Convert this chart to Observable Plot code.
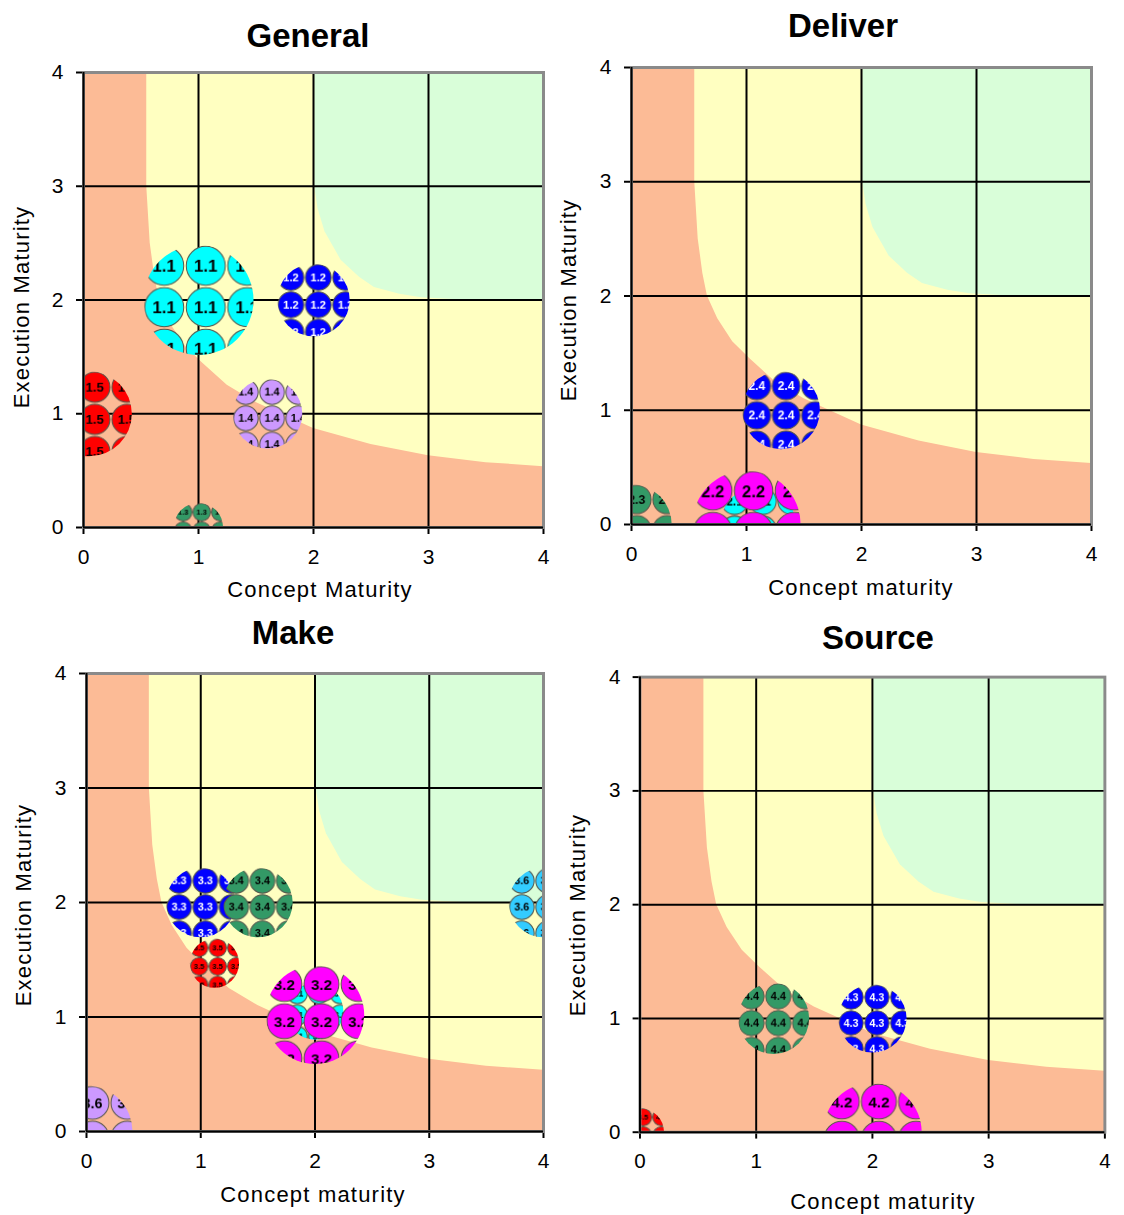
<!DOCTYPE html>
<html><head><meta charset="utf-8">
<script src="https://cdn.jsdelivr.net/npm/d3@7"></script>
<script src="https://cdn.jsdelivr.net/npm/@observablehq/plot@0.6"></script>
<style>
body{margin:0;background:#fff;}
#root{position:relative;width:1124px;height:1215px;overflow:hidden;font-family:"Liberation Sans",Arial,sans-serif;color:#000;}
.title{position:absolute;font-weight:bold;font-size:33px;transform:translate(-50%,-50%);white-space:nowrap;line-height:1;}
.xt{position:absolute;font-size:22px;letter-spacing:1.2px;transform:translate(-50%,-50%);white-space:nowrap;line-height:1;}
.yt{position:absolute;font-size:22px;letter-spacing:1.2px;transform:translate(-50%,-50%) rotate(-90deg);white-space:nowrap;line-height:1;}
.panel{position:absolute;}
.panel svg g[aria-label="x-axis tick"] path, .panel svg g[aria-label="y-axis tick"] path{stroke-width:2px;}
.panel svg .tick line{stroke-width:2px;}
</style></head>
<body><div id="root"></div>
<script>
// ---------- data ----------
const panelTitles = ["General", "Deliver", "Make", "Source"];
const xTitles = ["Concept Maturity", "Concept maturity", "Concept maturity", "Concept maturity"];
const yTitles = ["Execution Maturity", "Execution Maturity", "Execution Maturity", "Execution Maturity"];
const tickValues = [0, 1, 2, 3, 4];

// bubbles (drawn in this order)
const bubbleLabel = ["1.1","1.2","1.3","1.4","1.5",
                     "2.3","2.1","2.2","2.4",
                     "3.1","3.2","3.3","3.4","3.5","3.6","3.6",
                     "4.2","4.3","4.4","4.5"];
const bubblePanel = [0,0,0,0,0, 1,1,1,1, 2,2,2,2,2,2,2, 3,3,3,3];
const conceptX    = [1, 2, 1, 1.6, 0.05,  0, 1.1, 1, 1.3,  2, 2, 1, 1.5, 1.12, 4, 0,  2, 2, 1.15, 0];
const executionY  = [2, 2, 0, 1, 1,       0, 0, 0, 1,      1.05, 1.02, 2, 2, 1.47, 2, 0,  0, 1, 1, 0];
const bubbleSize  = [30, 13, 6, 12, 18,   16, 14, 29, 15,  8, 24, 12, 12, 6, 12, 21,  25, 12, 13, 6];
const bubbleHue   = ["cyan","blue","green","lavender","red",
                     "green","cyan","magenta","blue",
                     "cyan","magenta","blue","green","red","sky","lavender",
                     "magenta","blue","green","red"];

// background zone boundaries
const redEdgeX = [0, 0.55, 0.55, 0.58, 0.62, 0.66, 0.75, 0.88, 1.03, 1.25, 1.5, 2, 2.5, 3, 3.5, 4];
const redEdgeY = [4, 4, 3, 2.5, 2.2, 2.0, 1.8, 1.6, 1.45, 1.25, 1.1, 0.87, 0.73, 0.63, 0.57, 0.535];
const greenEdgeX = [2.01, 2.04, 2.1, 2.24, 2.4, 2.53, 2.75, 2.94, 3.3, 4];
const greenEdgeY = [3.0, 2.8, 2.6, 2.35, 2.2, 2.11, 2.05, 2.02, 2.0, 2.0];

// ---------- styles / layout ----------
const palette = {cyan:"#00FFFF", blue:"#0000FF", green:"#339966", lavender:"#CC99FF",
                 red:"#FF0000", magenta:"#FF00FF", sky:"#33CCFF"};
const zoneColors = {red:"#FCBB96", yellow:"#FFFFC1", green:"#D9FED9"};
const layout = [
  {x0:83, x4:543, y4:72, y0:527},
  {x0:631, x4:1091, y4:67, y0:524},
  {x0:86, x4:543, y4:673, y0:1131},
  {x0:641, x4:1115, y4:677, y0:1141}
];
const titlePos = [[308,35],[843,25],[293,632],[878,637]];
const xTitlePos = [[320,590],[861,588],[313,1195],[883,1202]];
const yTitlePos = [[22,307],[569,300],[24,905],[578,915]];

const redEdge = redEdgeX.map((x,i)=>({x, y:redEdgeY[i]}));
const greenEdge = greenEdgeX.map((x,i)=>({x, y:greenEdgeY[i]}));
const bubbles = bubbleLabel.map((label,k)=>({label, panel:bubblePanel[k], x:conceptX[k], y:executionY[k],
  size:bubbleSize[k], hue:bubbleHue[k], id:"pat"+k}));

const root = document.getElementById("root");
const NS = "http://www.w3.org/2000/svg";
const M = {l:80, t:20, r:20, b:70};

function addText(cls, txt, pos){
  const d = document.createElement("div");
  d.className = cls; d.textContent = txt;
  d.style.left = pos[0]+"px"; d.style.top = pos[1]+"px";
  root.appendChild(d);
}

panelTitles.forEach((title, i) => {
  const L = layout[i];
  const rows = bubbles.filter(d => d.panel === i);
  const chart = Plot.plot({
    width: L.x4 - L.x0 + M.l + M.r,
    height: L.y0 - L.y4 + M.t + M.b,
    marginLeft: M.l, marginRight: M.r, marginTop: M.t, marginBottom: M.b,
    style: {fontFamily: '"Liberation Sans", Arial, sans-serif', fontSize: "21px", color: "#000", background: "transparent", overflow: "visible"},
    x: {domain:[0,4], ticks:tickValues, tickSize:7, tickPadding:15, tickFormat:d=>String(d), label:null},
    y: {domain:[0,4], ticks:tickValues, tickSize:7, tickPadding:13, tickFormat:d=>String(d), label:null},
    r: {type:"sqrt", domain:[0,30], range:[0,55]},
    color: {type:"identity"},
    marks: [
      Plot.frame({fill: zoneColors.yellow}),
      Plot.areaY(redEdge, {x:"x", y1:0, y2:"y", fill: zoneColors.red}),
      Plot.areaY(greenEdge, {x:"x", y1:"y", y2:4, fill: zoneColors.green}),
      Plot.ruleX([1,2,3], {stroke:"#000", strokeWidth:2}),
      Plot.ruleY([1,2,3], {stroke:"#000", strokeWidth:2}),
      Plot.dot(rows, {x:"x", y:"y", r:"size", fill:d=>`url(#${d.id})`, stroke:"none", sort:null, clip:true}),
      Plot.frame({stroke:"#8a8a8a", strokeWidth:3}),
      Plot.ruleX([0], {stroke:"#000", strokeWidth:2}),
      Plot.ruleY([0], {stroke:"#000", strokeWidth:2})
    ]
  });

  // tiled picture fills for the bubbles
  const sx = chart.scale("x"), sy = chart.scale("y"), sr = chart.scale("r");
  const defs = document.createElementNS(NS, "defs");
  rows.forEach(d => {
    const cx = sx.apply(d.x), cy = sy.apply(d.y), rr = sr.apply(d.size);
    const t = 2 * rr / 2.65;
    const p = document.createElementNS(NS, "pattern");
    p.setAttribute("id", d.id);
    p.setAttribute("patternUnits", "userSpaceOnUse");
    p.setAttribute("x", cx - rr); p.setAttribute("y", cy - rr);
    p.setAttribute("width", t); p.setAttribute("height", t);
    const c = document.createElementNS(NS, "circle");
    c.setAttribute("cx", t/2); c.setAttribute("cy", t/2); c.setAttribute("r", t*0.47);
    c.setAttribute("fill", palette[d.hue]); c.setAttribute("stroke", "#55554a"); c.setAttribute("stroke-width", 1);
    p.appendChild(c);
    const tx = document.createElementNS(NS, "text");
    tx.setAttribute("x", t/2); tx.setAttribute("y", t/2); tx.setAttribute("dy", "0.36em");
    tx.setAttribute("text-anchor", "middle");
    tx.setAttribute("font-weight", "bold");
    tx.setAttribute("font-family", '"Liberation Sans", Arial, sans-serif');
    tx.setAttribute("font-size", (t*0.41).toFixed(1));
    tx.setAttribute("fill", d.hue === "blue" ? "#fff" : "#000");
    tx.textContent = d.label;
    p.appendChild(tx);
    defs.appendChild(p);
  });
  chart.insertBefore(defs, chart.firstChild);

  const wrap = document.createElement("div");
  wrap.className = "panel";
  wrap.style.left = (L.x0 - M.l) + "px";
  wrap.style.top = (L.y4 - M.t) + "px";
  wrap.appendChild(chart);
  root.appendChild(wrap);

  addText("title", title, titlePos[i]);
  addText("xt", xTitles[i], xTitlePos[i]);
  addText("yt", yTitles[i], yTitlePos[i]);
});
</script>
</body></html>
